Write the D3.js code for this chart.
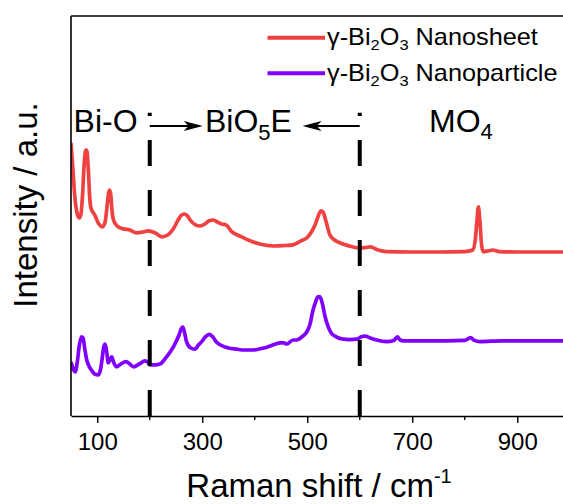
<!DOCTYPE html>
<html>
<head>
<meta charset="utf-8">
<script src="https://cdn.jsdelivr.net/npm/d3@7"></script>
<style>
  html, body { margin: 0; padding: 0; background: #fff; }
  svg { display: block; font-family: "Liberation Sans", Arial, sans-serif; }
</style>
</head>
<body>
<svg id="chart" width="563" height="504"></svg>
<script>
// Raman spectra of two γ-Bi2O3 morphologies (offset vertically, arbitrary units)
const sheetShift = [50, 53, 57, 61, 66, 69, 72, 75, 78, 80, 83, 86, 88, 95, 103, 110, 115, 119, 122, 124, 126, 128, 131, 138, 149, 162, 175, 187, 197, 210, 223, 235, 245, 254, 261, 267, 272, 277, 287, 296, 305, 313, 321, 330, 337, 345, 356, 375, 391, 416, 435, 454, 473, 488, 499, 508, 515, 521, 526, 530, 535, 543, 552, 562, 580, 597, 610, 620, 635, 651, 700, 750, 800, 815, 820, 823, 826, 829, 832, 835, 845, 854, 865, 900, 950, 1000];
const sheetIntensity = [68.3, 62.8, 55.3, 51.0, 49.5, 50.5, 55.3, 62.8, 66.5, 66.5, 61.5, 54.0, 52.0, 50.3, 48.0, 47.3, 48.5, 52.8, 56.0, 56.5, 55.0, 51.5, 49.0, 47.5, 46.8, 46.5, 45.8, 46.0, 46.3, 45.8, 44.8, 45.3, 46.8, 49.0, 50.3, 50.5, 50.0, 49.0, 47.8, 47.5, 48.0, 48.8, 49.0, 48.4, 48.0, 47.8, 46.1, 44.8, 43.8, 42.8, 42.5, 42.6, 42.8, 43.8, 44.5, 46.0, 47.8, 50.0, 51.3, 51.0, 49.0, 45.3, 44.0, 43.3, 42.5, 42.0, 42.1, 42.3, 41.5, 41.1, 41.0, 41.0, 41.1, 41.5, 44.0, 48.5, 52.3, 48.5, 42.8, 41.1, 41.3, 41.5, 41.1, 41.0, 41.0, 41.0];

const particleShift = [50, 55, 58, 62, 66, 70, 73, 76, 80, 85, 89, 95, 102, 106, 109, 112, 115, 118, 121, 124, 127.5, 131, 137, 145, 155, 162, 169, 180, 191, 196, 200, 210, 219.5, 232, 245, 255, 260, 263, 266, 270, 278, 286, 293, 299, 306, 313.5, 320, 327, 334, 350, 365.6, 380, 397, 410, 423, 440, 448, 455, 461, 473, 480, 490, 499, 505, 511, 516, 520, 524, 528, 534, 540, 546, 555, 569, 580, 594, 603, 610, 620, 632, 651, 665, 671.5, 677, 683, 720, 765.6, 800, 811, 818, 829, 870, 920, 1000];
const particleIntensity = [13.5, 11.5, 11.0, 13.5, 17.8, 19.8, 19.5, 17.0, 14.0, 12.3, 11.5, 10.5, 10.3, 11.5, 14.0, 17.0, 18.0, 16.0, 13.3, 14.0, 14.8, 13.5, 12.3, 13.0, 13.6, 13.0, 12.3, 13.0, 13.8, 13.5, 12.8, 12.8, 13.0, 14.8, 17.3, 20.0, 21.8, 22.2, 21.0, 18.6, 17.0, 16.7, 17.8, 18.6, 19.8, 20.4, 19.8, 18.5, 17.8, 17.0, 16.7, 16.5, 16.5, 16.8, 17.2, 18.0, 18.3, 18.3, 18.0, 19.0, 19.0, 19.8, 21.0, 22.8, 26.5, 28.5, 29.8, 29.8, 28.5, 24.8, 22.3, 20.7, 19.8, 19.2, 19.1, 19.2, 19.8, 20.0, 19.5, 19.0, 18.6, 18.9, 19.8, 19.0, 18.8, 18.8, 18.8, 18.9, 19.6, 18.9, 18.6, 18.8, 18.8, 18.8];

const seriesNames = ["Nanosheet", "Nanoparticle"];
const seriesColors = ["#f04141", "#7f00ff"];

// Vibrational regions marked on the spectrum
const regionBounds = [200, 600];
const regionTop = 75.8;
const arrowLevel = 72.5;
const arrowTips = [301, 491];
const xTicks = [100, 300, 500, 700, 900];
const xMinorTicks = [200, 400, 600, 800];

const svg = d3.select("#chart");
const margin = { left: 71, top: 16, bottom: 416 };
const x = d3.scaleLinear().domain([50, 1000]).range([margin.left, margin.left + 950 * 0.525]);
const y = d3.scaleLinear().domain([0, 100]).range([margin.bottom, margin.top]);

svg.append("defs").append("clipPath").attr("id", "plotClip")
  .append("rect").attr("x", x(50)).attr("y", y(100))
  .attr("width", x(1000) - x(50)).attr("height", y(0) - y(100));

const line = d3.line().x(d => x(d[0])).y(d => y(d[1])).curve(d3.curveMonotoneX);

const series = [
  d3.zip(sheetShift, sheetIntensity),
  d3.zip(particleShift, particleIntensity)
];

const plot = svg.append("g").attr("clip-path", "url(#plotClip)");
series.forEach((pts, i) => {
  plot.append("path")
    .attr("d", line(pts))
    .attr("fill", "none")
    .attr("stroke", seriesColors[i])
    .attr("stroke-width", 3.7)
    .attr("stroke-linejoin", "round");
});

// Dashed region boundaries, drawn from the baseline upward
regionBounds.forEach(v => {
  svg.append("line")
    .attr("x1", x(v)).attr("x2", x(v))
    .attr("y1", y(0)).attr("y2", y(regionTop))
    .attr("stroke", "#000").attr("stroke-width", 4)
    .attr("stroke-dasharray", "26,24");
});

// Frame: top and left edges
svg.append("line").attr("x1", x(50)).attr("x2", x(1000)).attr("y1", y(100)).attr("y2", y(100))
  .attr("stroke", "#000").attr("stroke-width", 1.6);
svg.append("line").attr("x1", x(50)).attr("x2", x(50)).attr("y1", y(100)).attr("y2", y(0))
  .attr("stroke", "#000").attr("stroke-width", 1.6);

// Bottom axis
const xAxis = svg.append("g").attr("transform", `translate(0,${y(0)})`)
  .call(d3.axisBottom(x).tickValues(xTicks).tickSize(7).tickSizeOuter(0).tickFormat(d3.format("d")));
xAxis.select(".domain").attr("stroke-width", 1.6);
xAxis.selectAll(".tick line").attr("stroke-width", 1.4);
xAxis.selectAll(".tick text")
  .attr("y", 34).attr("dy", null)
  .attr("font-size", 24).attr("font-family", "Liberation Sans, Arial, sans-serif");
xAxis.selectAll(".minor").data(xMinorTicks).enter().append("line")
  .attr("x1", d => x(d)).attr("x2", d => x(d)).attr("y1", 0).attr("y2", 4)
  .attr("stroke", "#000").attr("stroke-width", 1.4);

// Axis titles
const xTitle = svg.append("text").attr("x", 319).attr("y", 497)
  .attr("text-anchor", "middle").attr("font-size", 33);
xTitle.append("tspan").text("Raman shift / cm");
xTitle.append("tspan").attr("font-size", 20).attr("dy", -14).text("-1");

svg.append("text")
  .attr("transform", "translate(37,205) rotate(-90)")
  .attr("text-anchor", "middle").attr("font-size", 33)
  .text("Intensity / a.u.");

// Legend (labels set slightly wide)
const legend = svg.append("g");
seriesNames.forEach((name, i) => {
  const ly = 37.7 + i * 35.6;
  legend.append("line").attr("x1", 267.5).attr("x2", 325).attr("y1", ly).attr("y2", ly)
    .attr("stroke", seriesColors[i]).attr("stroke-width", 4);
  const t = legend.append("text")
    .attr("transform", `translate(327,${ly + 7.5}) scale(1.1,1)`)
    .attr("font-size", 23);
  t.append("tspan").text("γ-Bi");
  t.append("tspan").attr("font-size", 15).attr("dy", 5).text("2");
  t.append("tspan").attr("dy", -5).text("O");
  t.append("tspan").attr("font-size", 15).attr("dy", 5).text("3");
  t.append("tspan").attr("dy", -5).text(" " + name);
});

// Region labels and arrows
const labelY = 131.7;
svg.append("text").attr("x", 73.6).attr("y", labelY).attr("font-size", 32).text("Bi-O");
const bio = svg.append("text").attr("x", 205).attr("y", labelY).attr("font-size", 32);
bio.append("tspan").text("BiO");
bio.append("tspan").attr("font-size", 22).attr("dy", 8).text("5");
bio.append("tspan").attr("dy", -8).text("E");
const mo = svg.append("text").attr("x", 429).attr("y", labelY).attr("font-size", 32);
mo.append("tspan").text("MO");
mo.append("tspan").attr("font-size", 22).attr("dy", 7).text("4");

const ay = y(arrowLevel);
[[regionBounds[0], arrowTips[0]], [regionBounds[1], arrowTips[1]]].forEach(([from, to]) => {
  const x0 = x(from), x1 = x(to);
  const dir = Math.sign(x1 - x0);
  const headLen = 19, headHalf = 5;
  svg.append("line").attr("x1", x0).attr("x2", x1 - dir * headLen * 0.6)
    .attr("y1", ay).attr("y2", ay).attr("stroke", "#000").attr("stroke-width", 2);
  svg.append("path")
    .attr("d", `M${x1},${ay} L${x1 - dir * headLen},${ay - headHalf} L${x1 - dir * headLen * 0.75},${ay} L${x1 - dir * headLen},${ay + headHalf} Z`)
    .attr("fill", "#000");
});
</script>
</body>
</html>
